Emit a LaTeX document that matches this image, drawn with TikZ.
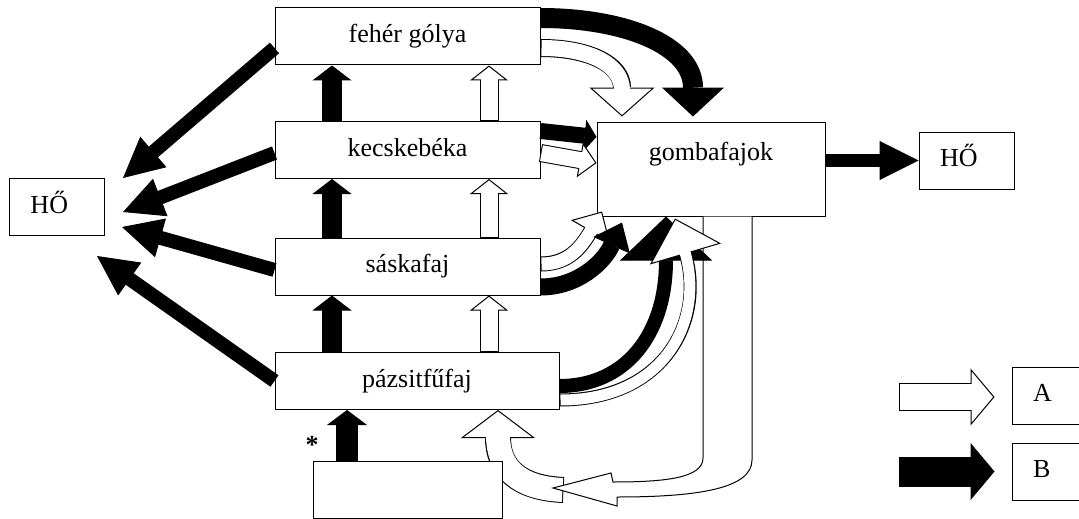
\documentclass[tikz,border=0pt]{standalone}
\usepackage{fontspec}
\setmainfont{Liberation Serif}
\usetikzlibrary{arrows.meta}
\pgfdeclarelayer{background}
\pgfsetlayers{background,main}
\tikzset{
  box/.style={draw, line width=1pt, fill=white, inner sep=0pt,
    minimum width=265pt, minimum height=57pt, text height=18pt, text depth=6pt},
  tagbox/.style={draw, line width=1pt, fill=white, inner xsep=21pt, inner ysep=0pt,
    text width=53pt, align=left, minimum height=57pt, text height=18pt, text depth=6pt},
  fullarr/.style n args={3}{line width=#1, -{Triangle[length=#2, width=#3, line width'=1pt]}},
  hollowedge/.style n args={3}{line width=#1+2pt,
    -{Triangle[length=#2, width=#3, line width'=1pt, fill=white]}},
  hollowcore/.style 2 args={white, line width=#1, shorten <=1pt, shorten >=#2-2.5pt},
}
\newcommand{\hollowarr}[4]{%
  \draw[hollowedge={#1}{#2}{#3}] #4;
  \draw[hollowcore={#1}{#2}] #4;
}
\begin{document}
\begin{tikzpicture}[x=1pt, y=-1pt, font=\fontsize{26}{30}\selectfont]
  \useasboundingbox (0,0) rectangle (1079,519);
  \node[box] (golya) at (407.5,36.5) {fehér gólya};
  \node[box] (beka) at (407.5,150) {kecskebéka};
  \node[box] (saska) at (407.5,266.5) {sáskafaj};
  \node[box, minimum width=284pt] (fu) at (417,381) {pázsitfűfaj};
  \node[box, minimum width=189pt] (src) at (407.5,490) {};
  \node[box, minimum width=228pt, minimum height=94pt, text depth=36pt] (gomba) at (711,169) {gombafajok};
  \node[tagbox] (hoL) at (57,207) {HŐ};
  \node[tagbox] (hoR) at (966.5,160.5) {HŐ};
  \node[tagbox] (legA) at (1059.5,395.5) {A};
  \node[tagbox] (legB) at (1059.5,471.5) {B};
  \node[anchor=north, inner sep=0pt] (star) at (312,436) {\textbf{*}};
  \coordinate (t1) at (123,178);
  \coordinate (t2) at (123,212);
  \coordinate (t3) at (122,227);
  \coordinate (t4) at (97,256);

  \begin{pgfonlayer}{background}
    \hollowarr{24pt}{28pt}{74pt}{([xshift=61pt]src.east) .. controls (518,488) and (498,468) .. ([xshift=81pt]fu.south)}
  \end{pgfonlayer}

  \draw[line width=1pt, fill=white] ([xshift=-8pt]gomba.south) -- (703,458)
    .. controls (703,478) and (665,482) .. (613,482) -- (611,473) -- (553,488)
    -- (617,506) -- (617,497) .. controls (700,497) and (752,488) .. (752,460)
    -- ([xshift=41pt]gomba.south);

  \draw[fullarr={14pt}{40pt}{40pt}] ([yshift=-11.5pt]golya.west) -- (t1);
  \draw[fullarr={14pt}{40pt}{40pt}] ([yshift=-3pt]beka.west) -- (t2);
  \draw[fullarr={14pt}{40pt}{40pt}] ([yshift=-3.5pt]saska.west) -- (t3);
  \draw[fullarr={14pt}{40pt}{40pt}] (fu.west) -- (t4);

  \foreach \lo/\hi in {beka/golya, saska/beka, fu/saska} {
    \draw[fullarr={20pt}{15pt}{39pt}] ([xshift=-75.5pt]\hi.south |- \lo.north) -- ([xshift=-75.5pt]\hi.south);
    \hollowarr{17pt}{15pt}{38pt}{([xshift=81.5pt]\hi.south |- \lo.north) -- ([xshift=81.5pt]\hi.south)}
  }
  \draw[fullarr={22pt}{15pt}{40pt}] ([xshift=-60.5pt]src.north) -- ([xshift=-60.5pt]src.north |- fu.south);

  \draw[fullarr={20pt}{29pt}{62pt}] ([yshift=18.5pt]golya.east) .. controls (624,18) and (693,45) .. ([xshift=-18pt, yshift=5pt]gomba.north);
  \hollowarr{16pt}{29pt}{65pt}{([yshift=-11.5pt]golya.east) .. controls (590,48) and (622,65) .. ([xshift=-89pt, yshift=5pt]gomba.north)}
  \draw[fullarr={16pt}{12pt}{32pt}] ([yshift=19pt]beka.east) -- ([yshift=32pt]gomba.west);
  \hollowarr{16pt}{17pt}{35pt}{([yshift=-3pt]beka.east) -- ([yshift=6pt]gomba.west)}
  \hollowarr{13pt}{23pt}{45pt}{([yshift=2.5pt]saska.east) .. controls (568,264) and (581,248) .. ([xshift=-109pt, yshift=5pt]gomba.south)}
  \draw[fullarr={17pt}{25pt}{40pt}] ([yshift=-20.5pt]saska.east) .. controls (578,287) and (604,262) .. ([xshift=-89pt, yshift=-6pt]gomba.south);
  \draw[fullarr={14pt}{44pt}{92pt}] ([yshift=-5pt]fu.east) .. controls (625,386) and (666,335) .. ([xshift=-45pt]gomba.south);
  \hollowarr{11pt}{37pt}{74pt}{([yshift=-19pt]fu.east) .. controls (665,400) and (705,320) .. ([xshift=-36pt, yshift=-2pt]gomba.south)}

  \draw[fullarr={13pt}{39pt}{39pt}] (gomba.east |- hoR.west) -- (hoR.west);
  \hollowarr{26pt}{24pt}{57pt}{([xshift=-113pt, yshift=-1.5pt]legA.west) -- ([xshift=-17pt, yshift=-1.5pt]legA.west)}
  \draw[fullarr={30pt}{24pt}{57pt}] ([xshift=-113pt]legB.west) -- ([xshift=-17pt]legB.west);
\end{tikzpicture}
\end{document}
